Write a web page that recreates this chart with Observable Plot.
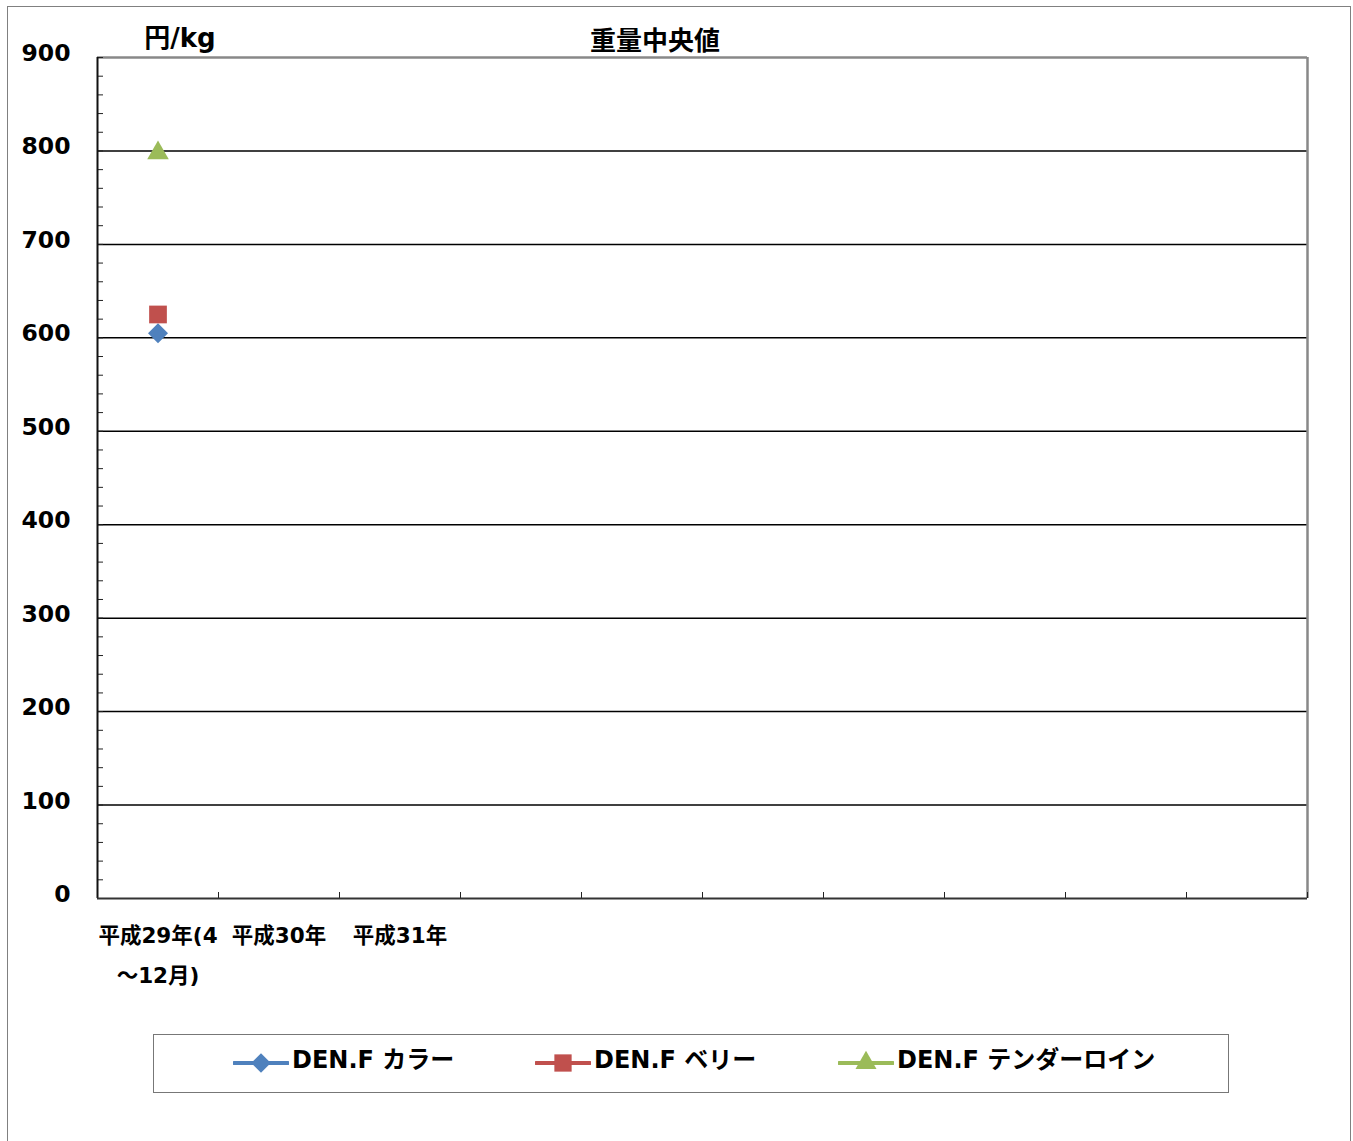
<!DOCTYPE html>
<html><head><meta charset="utf-8">
<script src="https://cdn.jsdelivr.net/npm/d3@7"></script>
<script src="https://cdn.jsdelivr.net/npm/@observablehq/plot@0.6"></script>
<style>
body{margin:0;background:#fff;}
#wrap{position:relative;width:1353px;height:1141px;overflow:hidden;font-family:"DejaVu Sans","Noto Sans CJK JP",sans-serif;font-weight:bold;color:#000;}
#border{position:absolute;left:7px;top:6px;width:1344px;height:1200px;border:1.5px solid #808080;box-sizing:border-box;}
#chart{position:absolute;left:0;top:0;}
#title{position:absolute;left:655px;top:22px;transform:translateX(-50%);font-size:26px;font-family:"Noto Sans CJK JP",sans-serif;font-weight:bold;white-space:nowrap;line-height:34px;}
#unit{position:absolute;left:180px;top:21px;transform:translateX(-50%);font-size:26px;font-family:"DejaVu Sans","Noto Sans CJK JP",sans-serif;white-space:nowrap;line-height:34px;}
#legend{position:absolute;left:153px;top:1034px;width:1076px;height:59px;border:1px solid #777;box-sizing:border-box;}
.item{position:absolute;top:13px;height:30px;}
.item svg{position:absolute;left:0;top:0;}
.item span{position:absolute;left:59px;top:-4px;font-family:"DejaVu Sans","Noto Sans CJK JP",sans-serif;font-weight:bold;font-size:24px;white-space:nowrap;line-height:32px;}
</style></head>
<body>
<div id="wrap">
  <div id="border"></div>
  <div id="chart"></div>
  <div id="title"></div>
  <div id="unit"></div>
  <div id="legend"></div>
</div>
<script>
// ---- data ----
const categories = ["平成29年(4～12月)", "平成30年", "平成31年", "", "", "", "", "", "", ""];
const seriesNames = ["DEN.F カラー", "DEN.F ベリー", "DEN.F テンダーロイン"];
const collar = [605];
const belly = [625];
const tenderloin = [800];
const yMajorTicks = [0, 100, 200, 300, 400, 500, 600, 700, 800, 900];
const yMinorStep = 20;
const chartTitle = "重量中央値";
const unitLabel = "円/kg";

const colors = ["#4F81BD", "#C0504D", "#9BBB59"];
const symbols = ["diamond2", "square", "triangle"];
const radii = [9, 10, 8];
const seriesValues = [collar, belly, tenderloin];

const rows = seriesNames.map((s, k) => seriesValues[k].map((v, i) => ({series: s, idx: i + 0.5, value: v}))).flat();

const wrapLabel = (t) => t.length > 7 ? t.slice(0, 7) + "\n" + t.slice(7) : t;

const n = categories.length;
const labelTicks = categories.map((c, i) => c ? i + 0.5 : null).filter(d => d !== null);
const minorTicks = d3.range(0, 900 + 1, yMinorStep);

const marks = [
  Plot.ruleY(yMajorTicks.filter(d => d > 0 && d < 900), {stroke: "#000", strokeWidth: 1.5}),
  Plot.ruleY([900], {stroke: "#888", strokeWidth: 2.5}),
  Plot.ruleX([n], {stroke: "#888", strokeWidth: 2.5}),
  Plot.axisY(minorTicks, {tickSize: 6, dx: 6, tickFormat: () => "", label: null, stroke: "#222", strokeWidth: 1}),
  Plot.axisY(yMajorTicks, {tickSize: 0, tickPadding: 27, dy: -4, fontSize: 23.5, fontWeight: "bold", label: null}),
  Plot.axisX(d3.range(1, n + 1), {tickSize: 6, dy: -6, tickFormat: () => "", label: null, stroke: "#222", strokeWidth: 1}),
  Plot.axisX(labelTicks, {tickSize: 0, tickPadding: 15, tickFormat: d => wrapLabel(categories[d - 0.5]), fontSize: 21.5, fontWeight: "bold", lineHeight: 1.9, label: null}),
  Plot.ruleX([0], {stroke: "#111", strokeWidth: 2}),
  Plot.ruleY([0], {stroke: "#333", strokeWidth: 2}),
  ...seriesNames.map((s, k) => Plot.dot(rows.filter(r => r.series === s), {x: "idx", y: "value", symbol: () => symbols[k], fill: colors[k], r: radii[k], stroke: "none", dy: symbols[k] === "triangle" ? 2 : 0}))
];

const chart = Plot.plot({
  width: 1353,
  height: 1141,
  marginLeft: 97,
  marginRight: 46,
  marginTop: 57,
  marginBottom: 243,
  x: {type: "linear", domain: [0, n]},
  y: {domain: [0, 900]},
  symbol: {type: "identity"},
  style: {fontFamily: '"DejaVu Sans","Noto Sans CJK JP",sans-serif', background: "transparent", color: "#000"},
  marks
});
document.getElementById("chart").appendChild(chart);
document.getElementById("title").textContent = chartTitle;
document.getElementById("unit").textContent = unitLabel;

// legend
const legend = document.getElementById("legend");
const itemLefts = [79, 381, 684];
seriesNames.forEach((s, k) => {
  const item = document.createElement("div");
  item.className = "item";
  item.style.left = itemLefts[k] + "px";
  const svg = d3.create("svg").attr("width", 56).attr("height", 30);
  svg.append("line").attr("x1", 1).attr("x2", 55).attr("y1", 15).attr("y2", 15).attr("stroke", colors[k]).attr("stroke-width", 4).attr("stroke-linecap", "round");
  const sym = {diamond2: d3.symbolDiamond2, square: d3.symbolSquare, triangle: d3.symbolTriangle}[symbols[k]];
  svg.append("path").attr("transform", "translate(28,15)").attr("d", d3.symbol(sym, radii[k] * radii[k] * Math.PI * 0.95)()).attr("fill", colors[k]);
  item.appendChild(svg.node());
  const span = document.createElement("span");
  span.textContent = s;
  item.appendChild(span);
  legend.appendChild(item);
});
</script>
</body></html>
